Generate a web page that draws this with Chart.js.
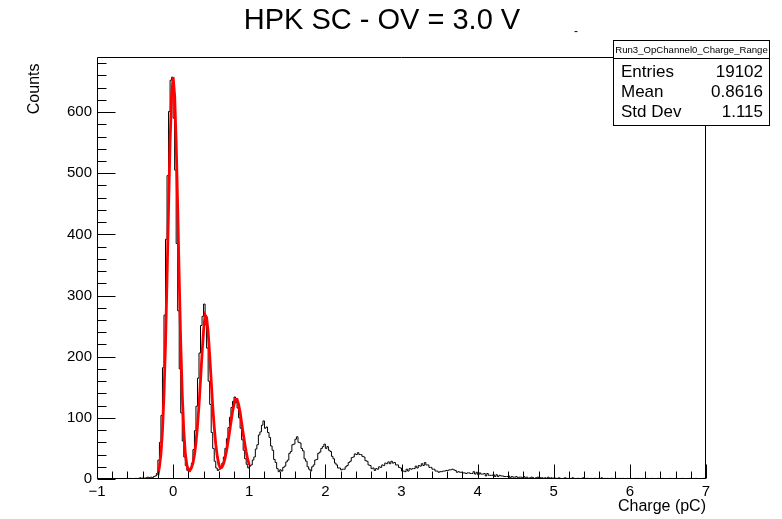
<!DOCTYPE html>
<html>
<head>
<meta charset="utf-8">
<script src="https://cdn.jsdelivr.net/npm/chart.js@4.4.1/dist/chart.umd.min.js"></script>
<style>
  html, body { margin: 0; padding: 0; background: #fff; }
</style>
</head>
<body>
<canvas id="chargeHist" width="782" height="519"></canvas>
<script>
const FONT = '"Liberation Sans", Arial, Helvetica, sans-serif';

// histogram: 400 bins of 0.02 pC from -1 to 7 (one row = 0.5 pC)
const binStart = -1;
const binWidth = 0.02;
const counts = [
  0,0,0,0,0,0,0,0,0,0,0,0,0,0,0,0,0,0,0,0,0,0,1,0,0,
  0,1,0,1,2,1,2,1,2,3,2,3,2,4,5,9,31,60,104,182,268,392,496,601,652,
  657,590,505,385,275,180,108,62,36,22,14,12,18,26,48,79,119,165,206,251,266,286,252,214,160,
  122,76,50,29,18,14,16,20,26,36,50,66,84,101,117,127,134,125,116,100,83,64,47,33,24,
  18,21,23,31,36,49,56,72,77,88,95,83,85,76,68,54,47,32,27,17,12,15,13,19,21,
  28,31,42,45,56,57,65,69,60,59,50,46,33,29,20,16,13,20,23,31,32,42,44,50,53,
  57,50,53,47,45,37,33,26,23,18,18,15,16,16,20,22,27,29,35,36,41,40,43,40,40,
  37,36,30,29,23,22,17,18,14,17,16,20,19,23,22,26,25,28,25,29,26,27,23,23,19,
  18,13,13,12,16,13,17,16,17,17,21,18,22,21,25,22,27,23,23,19,19,16,16,13,13,
  11,12,12,13,13,14,14,15,15,16,15,14,11,12,11,11,10,10,9,10,10,9,9,12,8,
  11,7,10,8,8,9,5,9,6,6,6,7,4,7,4,6,5,5,4,4,4,5,2,4,3,
  3,4,2,3,3,2,4,2,3,1,2,3,2,1,2,3,1,2,2,1,2,1,3,1,2,
  1,2,1,1,2,1,0,1,2,1,1,0,1,2,1,0,1,1,0,1,2,0,1,1,0,
  1,0,1,1,0,1,0,2,0,1,0,1,0,1,1,0,0,1,0,1,0,1,0,0,1,
  0,1,0,0,1,0,1,0,0,1,0,0,1,0,0,1,0,0,0,1,0,0,1,0,0,
  0,0,1,0,0,0,1,0,0,0,1,0,0,0,0,1,0,0,0,1,0,0,0,0,1
];

// red fit curve, sampled every 0.02 pC from -0.2 to 1.0
const fitStart = -0.2;
const fitStep = 0.02;
const fitValues = [
  6,20,41,79,138,222,328,444,551,627,
  657,627,551,444,328,222,138,79,42,23,
  15,14,18,26,39,59,87,121,162,205,
  243,268,264,240,203,161,119,85,57,37,
  24,18,19,24,33,45,60,76,93,110,
  122,130,130,122,109,92,75,59,44,32,
  23
];

const xTicks = [-1, 0, 1, 2, 3, 4, 5, 6, 7];
const yTicks = [0, 100, 200, 300, 400, 500, 600];

const statsName = 'Run3_OpChannel0_Charge_Range';
const statsLabels = ['Entries', 'Mean', 'Std Dev'];
const statsValues = ['19102', '0.8616', '1.115'];

const histPoints = counts.map((c, i) => ({ x: binStart + binWidth * i, y: c }));
histPoints.push({ x: binStart + binWidth * counts.length, y: counts[counts.length - 1] });
const fitPoints = fitValues.map((v, i) => ({ x: fitStart + fitStep * i, y: v }));

// ROOT-like frame, inner ticks, titles and stats box
const rootDecor = {
  id: 'rootDecor',
  afterDraw(chart) {
    const ctx = chart.ctx;
    const a = chart.chartArea;
    const xs = chart.scales.x, ys = chart.scales.y;
    const L = Math.round(a.left) + 0.5, R = Math.round(a.right) - 0.5;
    const T = Math.round(a.top) + 0.5, B = Math.round(a.bottom) - 0.5;
    ctx.save();
    ctx.strokeStyle = '#000';
    ctx.lineWidth = 1;
    ctx.beginPath();
    ctx.rect(L, T, R - L, B - T);
    ctx.stroke();

    ctx.beginPath();
    for (let v = -1; v <= 7.0001; v += 0.2) {
      const px = Math.round(xs.getPixelForValue(v)) + 0.5;
      const major = Math.abs(v - Math.round(v)) < 1e-6;
      ctx.moveTo(px, B);
      ctx.lineTo(px, B - (major ? 14 : 7));
    }
    for (let v = 0; v <= 680; v += 20) {
      const py = Math.round(ys.getPixelForValue(v)) + 0.5;
      const major = v % 100 === 0;
      ctx.moveTo(L, py);
      ctx.lineTo(L + (major ? 18 : 9), py);
    }
    ctx.stroke();

    ctx.fillStyle = '#000';
    ctx.font = '29px ' + FONT;
    ctx.textAlign = 'center';
    ctx.textBaseline = 'middle';
    ctx.fillText('HPK SC - OV = 3.0 V', 382, 21);

    ctx.font = '12px ' + FONT;
    ctx.fillText('-', 576, 32);

    ctx.font = '16px ' + FONT;
    ctx.textAlign = 'right';
    ctx.fillText('Charge (pC)', R + 0.5, 507);

    ctx.save();
    ctx.translate(35, T);
    ctx.rotate(-Math.PI / 2);
    ctx.textAlign = 'right';
    ctx.fillText('Counts', -6, 0);
    ctx.restore();

    // stats box
    const bx = 613.5, by = 40.5, bw = 156, bh = 85;
    ctx.fillStyle = '#fff';
    ctx.fillRect(bx, by, bw, bh);
    ctx.strokeRect(bx, by, bw, bh);
    ctx.beginPath();
    ctx.moveTo(bx, 58.5);
    ctx.lineTo(bx + bw, 58.5);
    ctx.stroke();
    ctx.fillStyle = '#000';
    ctx.font = '9.6px ' + FONT;
    ctx.textAlign = 'center';
    ctx.fillText(statsName, bx + bw / 2, 50);
    ctx.font = '17px ' + FONT;
    statsLabels.forEach((lab, i) => {
      const y = 72 + i * 20;
      ctx.textAlign = 'left';
      ctx.fillText(lab, 621, y);
      ctx.textAlign = 'right';
      ctx.fillText(statsValues[i], 763, y);
    });
    ctx.restore();
  }
};

new Chart(document.getElementById('chargeHist'), {
  type: 'line',
  data: {
    datasets: [
      {
        label: 'fit',
        data: fitPoints,
        borderColor: '#ff0000',
        borderWidth: 2.8,
        pointRadius: 0,
        tension: 0,
        fill: false,
        order: 0
      },
      {
        label: 'Run3_OpChannel0_Charge_Range',
        data: histPoints,
        borderColor: '#000000',
        borderWidth: 1,
        pointRadius: 0,
        stepped: 'after',
        fill: false,
        order: 1
      }
    ]
  },
  options: {
    responsive: false,
    animation: false,
    layout: { padding: { left: 0, right: 76, top: 57, bottom: 0 } },
    scales: {
      x: {
        type: 'linear',
        min: -1,
        max: 7,
        afterFit(scale) { scale.height = 40; },
        afterBuildTicks(scale) { scale.ticks = xTicks.map(v => ({ value: v })); },
        grid: { display: false, drawTicks: false },
        border: { display: false },
        ticks: {
          padding: 4,
          color: '#000',
          font: { family: FONT, size: 15 },
          maxRotation: 0,
          autoSkip: false,
          callback: v => (v < 0 ? '\u2212' + Math.abs(v) : String(v))
        }
      },
      y: {
        type: 'linear',
        min: 0,
        max: 690,
        afterFit(scale) { scale.width = 97; },
        afterBuildTicks(scale) { scale.ticks = yTicks.map(v => ({ value: v })); },
        grid: { display: false, drawTicks: false },
        border: { display: false },
        ticks: {
          padding: 5,
          color: '#000',
          font: { family: FONT, size: 15 },
          autoSkip: false
        }
      }
    },
    plugins: {
      legend: { display: false },
      tooltip: { enabled: false },
      title: { display: false }
    }
  },
  plugins: [rootDecor]
});
</script>
</body>
</html>
